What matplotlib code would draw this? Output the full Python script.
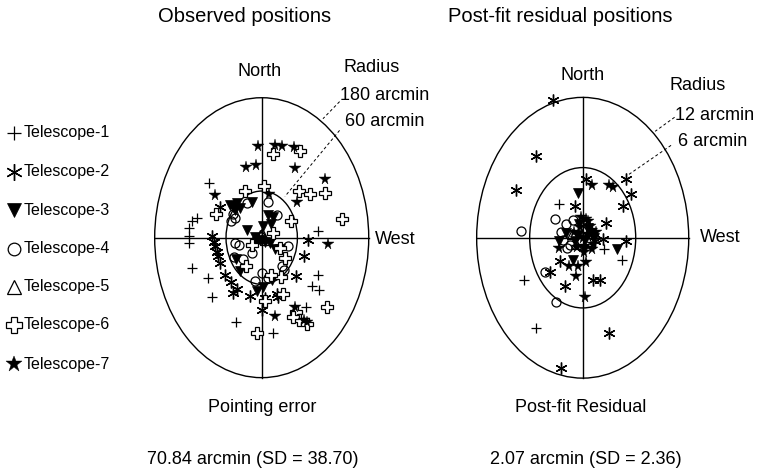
import matplotlib
matplotlib.use('Agg')
import matplotlib.pyplot as plt
from matplotlib.patches import Ellipse

plt.rcParams['font.family'] = ['Liberation Sans', 'DejaVu Sans']

# ---- data: (x = West offset, y = North offset), arcmin ----
obs_t1_x = [-89, -108, -117, -123, -123, -123, -118, -91, -84, -43, 19, 95, 95, 84, 96, 75]
obs_t1_y = [70, 25, 21, 12, 2, -7, -39, -52, -76, -109, -123, 9, -48, -62, -67, -89]
obs_t2_x = [-70, -84, -81, -79, -76, -73, -70, -61, -52, -42, -49, -20, 1, 78, 71, 57, 25, 5, 28]
obs_t2_y = [40, 2, -5, -11, -18, -24, -33, -48, -57, -66, -71, -75, -93, -3, -24, -49, -73, -78, -76]
obs_t3_x = [-49, -53, -41, -36, -45, -17, -24, 11, 19, 15, 3, 22, 31, -43, -36, -8, 2, 17, -8, -3, 14, -11, 6]
obs_t3_y = [40, 42, 44, 38, 36, 46, 10, 29, 27, 18, 15, -14, -15, -28, -43, -69, -63, -54, -5, -3, -7, 1, -5]
obs_t4_x = [11, -25, -48, -45, -52, 25, -45, -46, -31, -17, 44, 34, 38, 1, -11, 11, -39]
obs_t4_y = [46, 44, 31, 25, 21, 29, -7, -25, -28, -20, -11, -37, -42, -45, -56, -52, -9]
obs_t5_x = [-3, -7, 3, 0, 6]
obs_t5_y = [3, -1, 1, 6, -3]
obs_t6_x = [19, 64, 4, 62, 81, 107, 135, 49, 19, -28, -77, -17, -26, 30, 39, 33, 16, 36, 6, 58, 62, 77, 109, -8, 53]
obs_t6_y = [108, 111, 66, 60, 56, 58, 24, 21, 6, 60, 30, -9, -37, -13, -26, -50, -48, -73, -81, -95, -106, -111, -89, -123, -102]
obs_t7_x = [-6, 22, 34, 54, -27, -10, 56, 107, -79, 59, 12, 112, 56, 22, 77, 71]
obs_t7_y = [118, 119, 118, 117, 91, 94, 89, 75, 55, 46, 56, -8, -89, -101, -108, -106]

res_t1_x = [-2.7, 2.4, 4.5, -6.6, -5.3, 0.2, 1.0]
res_t1_y = [2.9, -1.0, -1.9, -3.6, -7.7, -0.5, 0.8]
res_t2_x = [-3.4, -5.3, -7.6, 0.4, 4.9, 5.5, 4.6, -0.9, 2.6, 2.3, 4.9, -2.6, -3.7, -2.0, 1.2, 2.0, 3.0, -2.4, 1.4]
res_t2_y = [11.8, 7.0, 4.1, 5.0, 5.0, 3.7, 2.7, 2.7, 1.3, -0.1, -0.3, -2.0, -2.9, -4.1, -3.6, -3.6, -8.1, -11.1, -0.3]
res_t3_x = [-0.5, 3.9, -2.7, -1.1, -1.9, 0.3, -0.5, 0.9, 0.1, -0.9, 1.3, 0.6, -0.4]
res_t3_y = [3.8, -1.0, -0.3, -1.9, 0.4, -0.2, 0.2, 0.4, -1.0, -0.3, 0.0, 0.8, 1.2]
res_t4_x = [-3.1, -7.0, -4.3, -3.0, -1.9, -2.4, -1.8, -1.1, -2.2, -1.4]
res_t4_y = [1.6, 0.6, -2.9, -5.5, 1.2, 0.5, -0.9, 1.5, -0.2, -0.6]
res_t5_x = [-0.3, 0.2, -0.8, 0.6, -1.2]
res_t5_y = [-0.1, 0.6, -0.5, -0.3, 0.3]
res_t6_x = []
res_t6_y = []
res_t7_x = [1.0, 3.0, 3.4, 0.6, -2.7, -1.6, -0.5, 0.4, -0.8, 0.3,
            0.0, 0.5, 1.2, -0.3, 0.8, 1.5, -0.6, 0.2, 1.0, -1.0, 0.4, -0.2]
res_t7_y = [4.5, 4.5, 4.3, 1.4, -0.9, -2.4, -2.4, -2.1, -3.3, -5.1,
            0.0, 0.3, -0.5, 0.9, 1.0, 0.5, -0.8, -1.2, -1.0, 0.5, 1.6, 1.8]

labels = ['Telescope-1', 'Telescope-2', 'Telescope-3', 'Telescope-4',
          'Telescope-5', 'Telescope-6', 'Telescope-7']

# marker styles per telescope
styles = [
    dict(marker='+', mfc='none', mec='black', mew=0.9, ms=7.5),
    dict(marker=(6, 2, 0), mfc='none', mec='black', mew=1.0, ms=8.5),
    dict(marker='v', mfc='black', mec='black', mew=0.5, ms=7.5),
    dict(marker='o', mfc='none', mec='black', mew=0.9, ms=6.5),
    dict(marker='^', mfc='none', mec='black', mew=0.9, ms=7),
    dict(marker='P', mfc='white', mec='black', mew=0.9, ms=8),
    dict(marker='*', mfc='black', mec='black', mew=0.3, ms=8.5),
]

obs = [(obs_t1_x, obs_t1_y), (obs_t2_x, obs_t2_y), (obs_t3_x, obs_t3_y), (obs_t4_x, obs_t4_y),
       (obs_t5_x, obs_t5_y), (obs_t6_x, obs_t6_y), (obs_t7_x, obs_t7_y)]
res = [(res_t1_x, res_t1_y), (res_t2_x, res_t2_y), (res_t3_x, res_t3_y), (res_t4_x, res_t4_y),
       (res_t5_x, res_t5_y), (res_t6_x, res_t6_y), (res_t7_x, res_t7_y)]

W, H = 760, 471
fig = plt.figure(figsize=(W / 100, H / 100), dpi=100)
fig.patch.set_facecolor('white')

# overlay in pixel coords for text and legend
ov = fig.add_axes([0, 0, 1, 1])
ov.set_xlim(0, W); ov.set_ylim(H, 0)
ov.axis('off')
ov.patch.set_alpha(0)


def target(rect, r_out, r_in, pts, dashes):
    ax = fig.add_axes(rect)
    lim = r_out * 1.111
    ax.set_xlim(-lim, lim); ax.set_ylim(-lim, lim)
    ax.axis('off')
    ax.patch.set_alpha(0)
    for r in (r_out, r_in):
        ax.add_patch(Ellipse((0, 0), 2 * r, 2 * r, fill=False, ec='black', lw=1.0))
    ax.plot([-r_out, r_out], [0, 0], color='black', lw=1.0)
    ax.plot([0, 0], [-r_out, r_out], color='black', lw=1.0)
    for (xs, ys), st in zip(pts, styles):
        if xs:
            ax.plot(xs, ys, ls='none', clip_on=False, **st)
    for (x1, y1, x2, y2) in dashes:
        ax.plot([x1, x2], [y1, y2], color='black', lw=0.7, ls=(0, (3, 2.5)))
    return ax


target([0.1879, 0.1652, 0.3129, 0.6603], 180, 60, obs,
       [(131, 175, 103, 153), (131, 138, 39, 53)])
target([0.6117, 0.1641, 0.3100, 0.6622], 12, 6, res,
       [(10.4, 10.3, 8.2, 9.1), (10.0, 7.9, 5.2, 5.4)])

# legend (drawn by hand like the original)
leg_y = [133, 171.5, 210, 248.5, 287, 325, 364]
for yy, lab, st in zip(leg_y, labels, styles):
    st2 = dict(st)
    st2['ms'] = st['ms'] * 1.4
    ov.plot([14], [yy], ls='none', **st2)
    ov.text(24, yy, lab, fontsize=11.5, ha='left', va='center')

# titles and labels
ov.text(245, 17, 'Observed positions', fontsize=14.5, ha='center', va='center')
ov.text(448, 17, 'Post-fit residual positions', fontsize=14.5, ha='left', va='center')

ov.text(260, 72, 'North', fontsize=13, ha='center', va='center')
ov.text(372, 68, 'Radius', fontsize=13, ha='center', va='center')
ov.text(340, 95, '180 arcmin', fontsize=13, ha='left', va='center')
ov.text(345, 122, '60 arcmin', fontsize=13, ha='left', va='center')
ov.text(375, 240, 'West', fontsize=13, ha='left', va='center')
ov.text(262, 407, 'Pointing error', fontsize=13, ha='center', va='center')
ov.text(253, 459, '70.84 arcmin (SD = 38.70)', fontsize=13, ha='center', va='center')

ov.text(583, 75, 'North', fontsize=13, ha='center', va='center')
ov.text(698, 85, 'Radius', fontsize=13, ha='center', va='center')
ov.text(675, 115, '12 arcmin', fontsize=13, ha='left', va='center')
ov.text(678, 142, '6 arcmin', fontsize=13, ha='left', va='center')
ov.text(700, 238, 'West', fontsize=13, ha='left', va='center')
ov.text(581, 408, 'Post-fit Residual', fontsize=13, ha='center', va='center')
ov.text(586, 459, '2.07 arcmin (SD = 2.36)', fontsize=13, ha='center', va='center')

plt.savefig('out.png', dpi=100, facecolor='white')
plt.close()
